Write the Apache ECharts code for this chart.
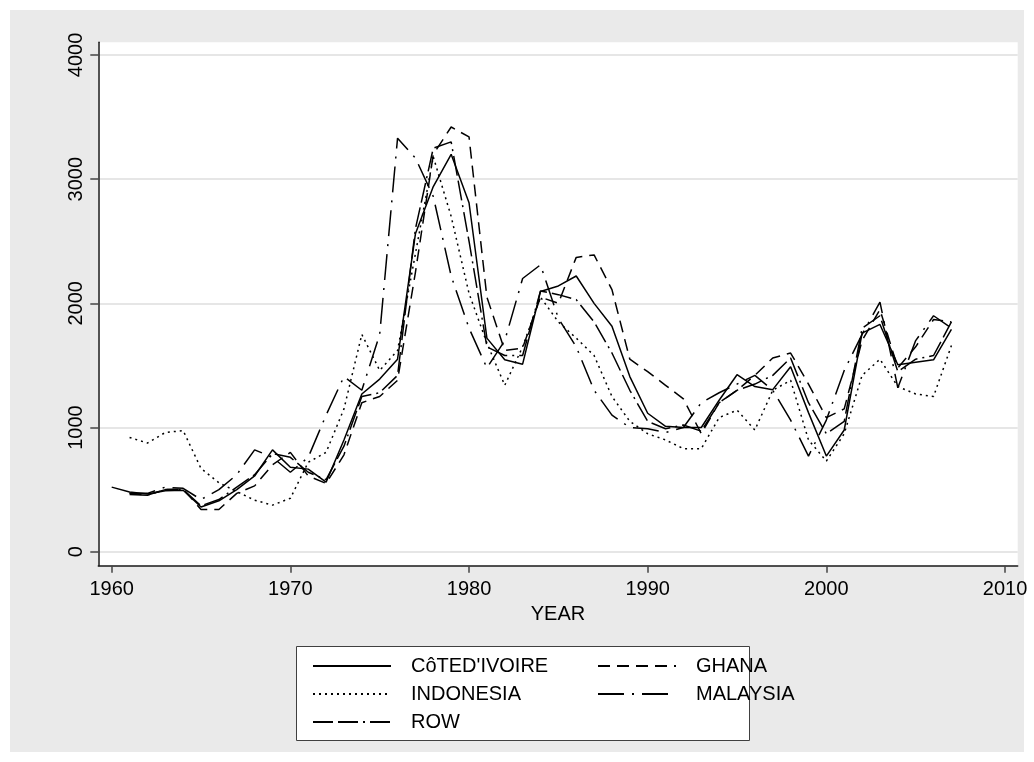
<!DOCTYPE html>
<html>
<head>
<meta charset="utf-8">
<script src="https://cdn.jsdelivr.net/npm/echarts@6/dist/echarts.min.js"></script>
<style>
  html, body { margin: 0; padding: 0; background: #fff; }
  #chart { width: 1034px; height: 762px; }
</style>
</head>
<body>
<div id="chart"></div>
<script>
// years on the x axis
const years = [1960, 1961, 1962, 1963, 1964, 1965, 1966, 1967, 1968, 1969,
  1970, 1971, 1972, 1973, 1974, 1975, 1976, 1977, 1978, 1979,
  1980, 1981, 1982, 1983, 1984, 1985, 1986, 1987, 1988, 1989,
  1990, 1991, 1992, 1993, 1994, 1995, 1996, 1997, 1998, 1999,
  2000, 2001, 2002, 2003, 2004, 2005, 2006, 2007];

// values (null = no value)
const coteDivoire = [520, 480, 465, 490, 495, 360, 410, 500, 610, 820,
  680, 665, 560, 900, 1270, 1390, 1550, 2560, 2940, 3200,
  2810, 1720, 1545, 1510, 2095, 2140, 2220, 2000, 1815, 1410,
  1115, 1010, 1000, 1000, 1220, 1425, 1330, 1305, 1490, 1120,
  770, 980, 1760, 1830, 1505, 1525, 1545, 1790];
const ghana = [null, 470, 455, 500, 505, 340, 340, 470, 530, 700,
  800, 610, 550, 780, 1200, 1250, 1380, 2250, 3200, 3420,
  3340, 2050, 1620, 1640, 2050, 2000, 2370, 2390, 2110, 1550,
  1450, 1340, 1230, 950, 1200, 1300, 1420, 1560, 1600, 1350,
  1080, 1150, 1700, 1950, 1480, 1650, 1870, 1850];
const indonesia = [null, 920, 875, 960, 975, 670, 555, 485, 415, 375,
  430, 720, 800, 1150, 1750, 1460, 1620, 2400, 3180, 2700,
  2080, 1680, 1340, 1650, 2050, 1850, 1720, 1580, 1250, 1050,
  950, 900, 830, 830, 1080, 1140, 980, 1300, 1380, 900,
  730, 950, 1420, 1550, 1330, 1270, 1250, 1660];
const malaysia = [null, 470, 470, 520, 510, 420, 500, 620, 820, 760,
  640, 760, 1100, 1410, 1300, 1750, 3330, 3170, 2860, 2220,
  1800, 1480, 1700, 2200, 2310, 1880, 1650, 1300, 1100, 1000,
  990, 960, 1000, 1200, 1280, 1350, 1420, 1300, 1060, 770,
  1060, 1460, 1750, 2010, 1320, 1700, 1900, 1800];
const row = [null, 460, 455, 500, 500, 370, 420, 520, 620, 790,
  760, 640, 580, 850, 1250, 1280, 1420, 2600, 3250, 3300,
  2500, 1650, 1580, 1580, 2100, 2070, 2030, 1850, 1600, 1300,
  1050, 990, 1020, 970, 1200, 1300, 1350, 1420, 1560, 1200,
  950, 1050, 1800, 1900, 1450, 1550, 1580, 1850];

const xTicks = [1960, 1970, 1980, 1990, 2000, 2010];
const yTicks = [0, 1000, 2000, 3000, 4000];

const names = ["CôTED'IVOIRE", 'GHANA', 'INDONESIA', 'MALAYSIA', 'ROW'];
const values = [coteDivoire, ghana, indonesia, malaysia, row];
// dash pattern per series: solid, dash, dot, long dash-dot, long dash long dash dot
const dashes = ['solid', [12, 7], [2, 4], [26, 8, 2, 8], [20, 5, 20, 5, 2, 5]];

const font = 'Liberation Sans, Arial, sans-serif';

const series = names.map(function (name, i) {
  return {
    name: name,
    type: 'line',
    symbol: 'none',
    data: years.map(function (y, j) { return [y, values[i][j]]; }),
    lineStyle: { color: '#000', width: 1.5, type: dashes[i] },
    itemStyle: { color: '#000' },
    emphasis: { disabled: true }
  };
});

const chart = echarts.init(document.getElementById('chart'));
chart.setOption({
  animation: false,
  backgroundColor: '#fff',
  textStyle: { fontFamily: font },
  graphic: [
    {
      type: 'rect', z: -1, silent: true,
      shape: { x: 10, y: 10, width: 1014, height: 742 },
      style: { fill: '#eaeaea' }
    },
    {
      type: 'rect', z: 1, silent: true,
      shape: { x: 296.5, y: 646.5, width: 453, height: 94 },
      style: { fill: '#fff', stroke: '#404040', lineWidth: 1 }
    }
  ],
  grid: {
    left: 98.3, top: 42.3, width: 919.4, height: 523.4,
    show: true, backgroundColor: '#fff', borderWidth: 0
  },
  legend: {
    left: 312, top: 656, width: 575,
    itemWidth: 78, itemHeight: 14, itemGap: 8, padding: 0,
    data: names,
    itemStyle: { opacity: 0 },
    textStyle: { fontSize: 20, color: '#000', width: 178, padding: [0, 0, 0, 15], lineHeight: 18, fontFamily: font }
  },
  xAxis: {
    type: 'value', min: 1959.25, max: 2010.71,
    name: 'YEAR', nameLocation: 'middle', nameGap: 36,
    nameTextStyle: { fontSize: 20, color: '#000', fontFamily: font },
    axisLine: { show: true, onZero: false, lineStyle: { color: '#1a1a1a', width: 1.5 } },
    axisTick: { show: true, length: 7, customValues: xTicks, lineStyle: { color: '#444', width: 1.5 } },
    axisLabel: {
      customValues: xTicks, fontSize: 20, color: '#000', margin: 14, fontFamily: font,
      formatter: function (v) { return String(v); }
    },
    splitLine: { show: false }
  },
  yAxis: {
    type: 'value', min: -112.7, max: 4102,
    axisLine: { show: true, onZero: false, lineStyle: { color: '#1a1a1a', width: 1.5 } },
    axisTick: { show: true, length: 8, customValues: yTicks, lineStyle: { color: '#444', width: 1.5 } },
    axisLabel: {
      customValues: yTicks, rotate: 90, fontSize: 20, color: '#000', margin: 12, fontFamily: font,
      formatter: function (v) { return String(v); }
    },
    splitLine: { show: true, lineStyle: { color: '#e6e6e6', width: 2 } }
  },
  series: series
});
</script>
</body>
</html>
